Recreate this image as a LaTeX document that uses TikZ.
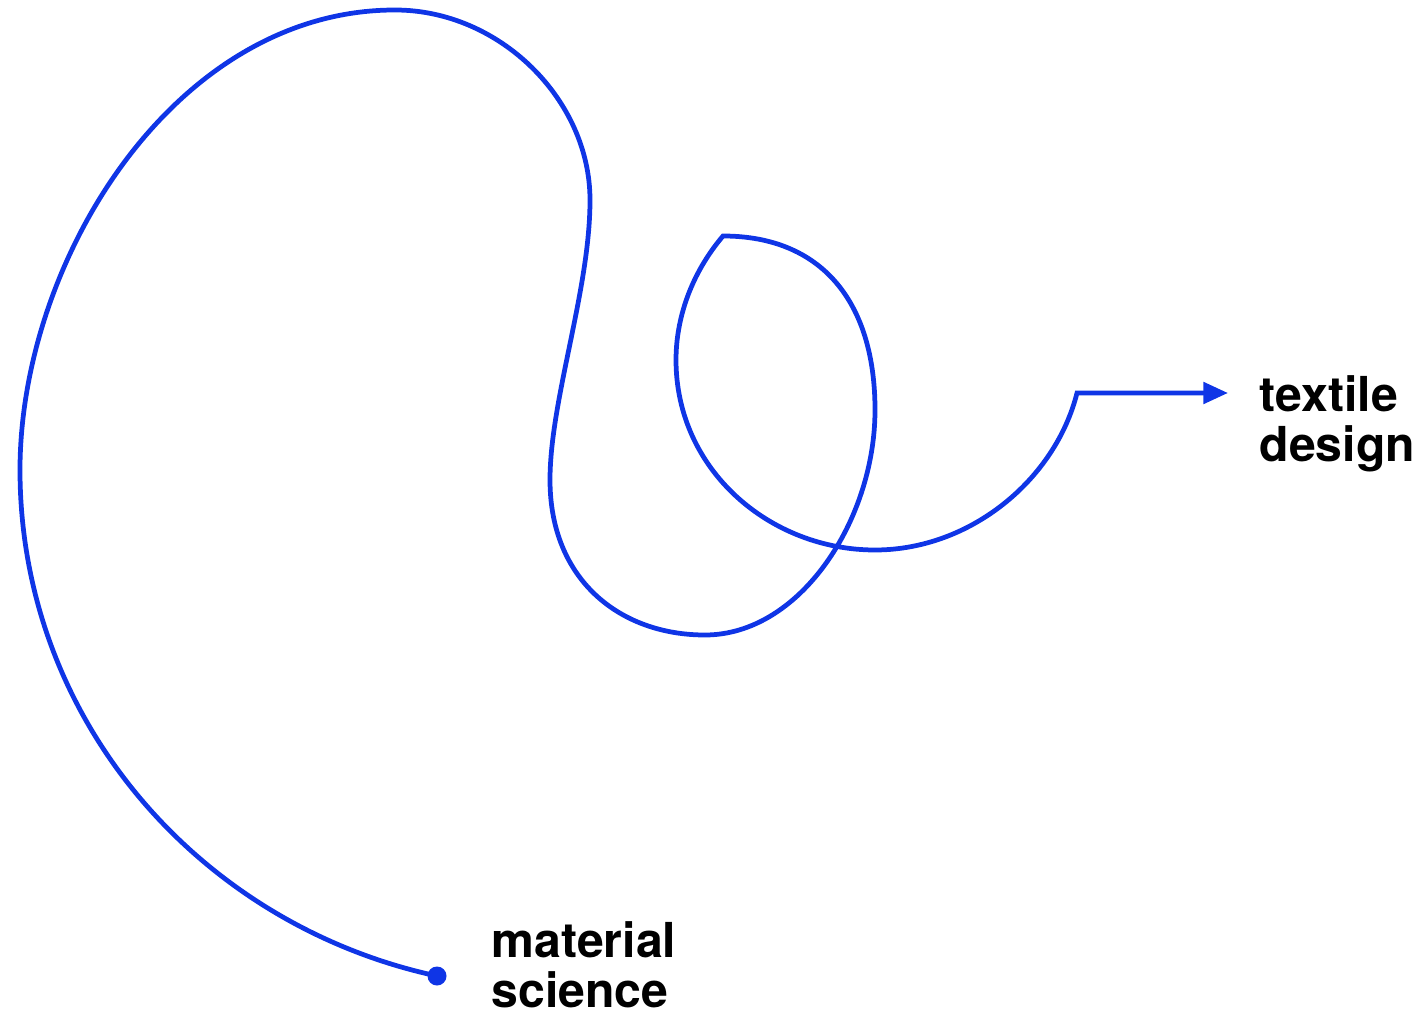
\documentclass[tikz,border=0pt]{standalone}
\usepackage{fontspec}
\setmainfont{TeX Gyre Heros}
\usepackage{xcolor}
\definecolor{TraceBlue}{HTML}{0F35E6}
\usetikzlibrary{arrows.meta,positioning}

\begin{document}
\begin{tikzpicture}[
        x=0.01cm, y=-0.01cm,
        trace/.style={TraceBlue, line width=1.35pt, line cap=round, line join=miter},
        label/.style={font=\fontsize{13.7}{14.2}\selectfont\bfseries, align=left, anchor=north west, inner sep=0pt, text=black}
    ]
        \useasboundingbox (0,0) rectangle (1422,1016);

        % End points and labels
        \coordinate (src) at (437,976);
        \coordinate (tip) at (1228,393);
        \node[label] (matsci) at (491,921) {material\\science};
        \node[label] (texdes) at (1259,375) {textile\\design};

        % One long wandering trace from one field to the other
        \draw[trace, -{Triangle[length=7pt,width=6pt]}] (src)
            .. controls (200,925) and (20,720) .. (20,470)
            .. controls (20,260) and (175,10) .. (395,10)
            .. controls (500,10) and (590,100) .. (590,200)
            .. controls (590,290) and (550,400) .. (550,480)
            .. controls (550,580) and (620,635) .. (705,635)
            .. controls (800,635) and (875,520) .. (875,410)
            .. controls (875,300) and (820,236) .. (723,236)
            .. controls (690,275) and (676,320) .. (676,360)
            .. controls (676,470) and (770,550) .. (875,550)
            .. controls (970,550) and (1055,480) .. (1077,393)
            -- (tip);
        \fill[TraceBlue] (src) circle (9.5);
    \end{tikzpicture}
\end{document}
